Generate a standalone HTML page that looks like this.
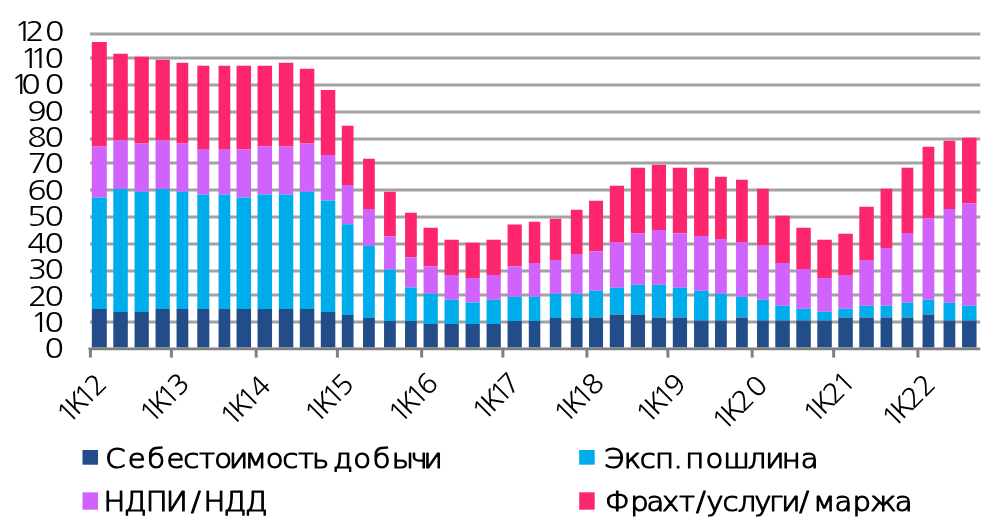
<!DOCTYPE html><html><head><meta charset="utf-8"><title>chart</title><style>html,body{margin:0;padding:0;background:#fff}svg{display:block}text{fill:#000000}.c text{font-family:"DejaVu Sans Light","DejaVu Sans","Liberation Sans",sans-serif;font-weight:200;stroke:#000000;stroke-width:1.15;stroke-linejoin:round}.d text{font-family:NanumGothic,"DejaVu Sans Light","Liberation Sans",sans-serif;font-weight:400}</style></head><body>
<svg width="1008" height="529" viewBox="0 0 1008 529">
<rect width="1008" height="529" fill="#fff"/>
<defs><filter id="soft" x="0" y="0" width="1008" height="529" filterUnits="userSpaceOnUse"><feGaussianBlur stdDeviation="0.7"/></filter><filter id="softt" x="0" y="0" width="1008" height="529" filterUnits="userSpaceOnUse"><feGaussianBlur stdDeviation="0.35"/></filter></defs>
<g id="chart" filter="url(#soft)">
<rect x="90" y="32.5" width="890.25" height="3" fill="#a2a2a2"/>
<rect x="90" y="56.5" width="890.25" height="3" fill="#a2a2a2"/>
<rect x="90" y="83.5" width="890.25" height="3" fill="#a2a2a2"/>
<rect x="90" y="110.5" width="890.25" height="3" fill="#a2a2a2"/>
<rect x="90" y="137.5" width="890.25" height="3" fill="#a2a2a2"/>
<rect x="90" y="161.5" width="890.25" height="3" fill="#a2a2a2"/>
<rect x="90" y="188.5" width="890.25" height="3" fill="#a2a2a2"/>
<rect x="90" y="215.5" width="890.25" height="3" fill="#a2a2a2"/>
<rect x="90" y="242.5" width="890.25" height="3" fill="#a2a2a2"/>
<rect x="90" y="269.5" width="890.25" height="3" fill="#a2a2a2"/>
<rect x="90" y="293.5" width="890.25" height="3" fill="#a2a2a2"/>
<rect x="90" y="320.5" width="890.25" height="3" fill="#a2a2a2"/>
<rect x="91.8" y="42.0" width="15.0" height="104.5" fill="#fd276c"/>
<rect x="91.8" y="146.5" width="15.0" height="51.0" fill="#d063fb"/>
<rect x="91.8" y="197.5" width="15.0" height="111.5" fill="#04adec"/>
<rect x="91.8" y="309.0" width="15.0" height="38.5" fill="#214d88"/>
<rect x="113.3" y="53.75" width="14.5" height="86.75" fill="#fd276c"/>
<rect x="113.3" y="140.5" width="14.5" height="48.5" fill="#d063fb"/>
<rect x="113.3" y="189.0" width="14.5" height="123.0" fill="#04adec"/>
<rect x="113.3" y="312.0" width="14.5" height="35.5" fill="#214d88"/>
<rect x="134.55" y="56.75" width="14.25" height="86.75" fill="#fd276c"/>
<rect x="134.55" y="143.5" width="14.25" height="48.25" fill="#d063fb"/>
<rect x="134.55" y="191.75" width="14.25" height="120.25" fill="#04adec"/>
<rect x="134.55" y="312.0" width="14.25" height="35.5" fill="#214d88"/>
<rect x="155.55" y="59.75" width="14.25" height="80.75" fill="#fd276c"/>
<rect x="155.55" y="140.5" width="14.25" height="48.5" fill="#d063fb"/>
<rect x="155.55" y="189.0" width="14.25" height="120.0" fill="#04adec"/>
<rect x="155.55" y="309.0" width="14.25" height="38.5" fill="#214d88"/>
<rect x="176.55" y="62.75" width="11.75" height="80.75" fill="#fd276c"/>
<rect x="176.55" y="143.5" width="11.75" height="48.25" fill="#d063fb"/>
<rect x="176.55" y="191.75" width="11.75" height="117.25" fill="#04adec"/>
<rect x="176.55" y="309.0" width="11.75" height="38.5" fill="#214d88"/>
<rect x="197.3" y="65.75" width="12.0" height="83.25" fill="#fd276c"/>
<rect x="197.3" y="149.0" width="12.0" height="45.5" fill="#d063fb"/>
<rect x="197.3" y="194.5" width="12.0" height="114.5" fill="#04adec"/>
<rect x="197.3" y="309.0" width="12.0" height="38.5" fill="#214d88"/>
<rect x="218.55" y="65.75" width="11.75" height="83.25" fill="#fd276c"/>
<rect x="218.55" y="149.0" width="11.75" height="45.5" fill="#d063fb"/>
<rect x="218.55" y="194.5" width="11.75" height="114.5" fill="#04adec"/>
<rect x="218.55" y="309.0" width="11.75" height="38.5" fill="#214d88"/>
<rect x="236.55" y="65.75" width="14.5" height="83.75" fill="#fd276c"/>
<rect x="236.55" y="149.5" width="14.5" height="48.0" fill="#d063fb"/>
<rect x="236.55" y="197.5" width="14.5" height="111.5" fill="#04adec"/>
<rect x="236.55" y="309.0" width="14.5" height="38.5" fill="#214d88"/>
<rect x="257.55" y="65.75" width="14.5" height="80.75" fill="#fd276c"/>
<rect x="257.55" y="146.5" width="14.5" height="48.0" fill="#d063fb"/>
<rect x="257.55" y="194.5" width="14.5" height="114.5" fill="#04adec"/>
<rect x="257.55" y="309.0" width="14.5" height="38.5" fill="#214d88"/>
<rect x="278.8" y="62.75" width="14.5" height="83.75" fill="#fd276c"/>
<rect x="278.8" y="146.5" width="14.5" height="48.0" fill="#d063fb"/>
<rect x="278.8" y="194.5" width="14.5" height="114.5" fill="#04adec"/>
<rect x="278.8" y="309.0" width="14.5" height="38.5" fill="#214d88"/>
<rect x="299.8" y="68.75" width="14.5" height="74.75" fill="#fd276c"/>
<rect x="299.8" y="143.5" width="14.5" height="48.25" fill="#d063fb"/>
<rect x="299.8" y="191.75" width="14.5" height="117.25" fill="#04adec"/>
<rect x="299.8" y="309.0" width="14.5" height="38.5" fill="#214d88"/>
<rect x="320.8" y="90.0" width="14.5" height="65.0" fill="#fd276c"/>
<rect x="320.8" y="155.0" width="14.5" height="45.5" fill="#d063fb"/>
<rect x="320.8" y="200.5" width="14.5" height="111.5" fill="#04adec"/>
<rect x="320.8" y="312.0" width="14.5" height="35.5" fill="#214d88"/>
<rect x="341.8" y="125.75" width="11.75" height="59.25" fill="#fd276c"/>
<rect x="341.8" y="185.0" width="11.75" height="39.25" fill="#d063fb"/>
<rect x="341.8" y="224.25" width="11.75" height="90.75" fill="#04adec"/>
<rect x="341.8" y="315.0" width="11.75" height="32.5" fill="#214d88"/>
<rect x="363.05" y="158.75" width="11.75" height="50.25" fill="#fd276c"/>
<rect x="363.05" y="209.0" width="11.75" height="36.75" fill="#d063fb"/>
<rect x="363.05" y="245.75" width="11.75" height="72.25" fill="#04adec"/>
<rect x="363.05" y="318.0" width="11.75" height="29.5" fill="#214d88"/>
<rect x="384.05" y="191.75" width="11.75" height="44.5" fill="#fd276c"/>
<rect x="384.05" y="236.25" width="11.75" height="33.25" fill="#d063fb"/>
<rect x="384.05" y="269.5" width="11.75" height="51.5" fill="#04adec"/>
<rect x="384.05" y="321.0" width="11.75" height="26.5" fill="#214d88"/>
<rect x="405.05" y="212.75" width="11.75" height="44.5" fill="#fd276c"/>
<rect x="405.05" y="257.25" width="11.75" height="30.25" fill="#d063fb"/>
<rect x="405.05" y="287.5" width="11.75" height="33.5" fill="#04adec"/>
<rect x="405.05" y="321.0" width="11.75" height="26.5" fill="#214d88"/>
<rect x="423.55" y="227.75" width="14.25" height="38.5" fill="#fd276c"/>
<rect x="423.55" y="266.25" width="14.25" height="27.5" fill="#d063fb"/>
<rect x="423.55" y="293.75" width="14.25" height="30.25" fill="#04adec"/>
<rect x="423.55" y="324.0" width="14.25" height="23.5" fill="#214d88"/>
<rect x="444.55" y="239.75" width="14.25" height="35.25" fill="#fd276c"/>
<rect x="444.55" y="275.0" width="14.25" height="24.75" fill="#d063fb"/>
<rect x="444.55" y="299.75" width="14.25" height="24.25" fill="#04adec"/>
<rect x="444.55" y="324.0" width="14.25" height="23.5" fill="#214d88"/>
<rect x="465.55" y="242.75" width="14.25" height="35.25" fill="#fd276c"/>
<rect x="465.55" y="278.0" width="14.25" height="24.5" fill="#d063fb"/>
<rect x="465.55" y="302.5" width="14.25" height="21.5" fill="#04adec"/>
<rect x="465.55" y="324.0" width="14.25" height="23.5" fill="#214d88"/>
<rect x="486.55" y="239.75" width="14.25" height="35.25" fill="#fd276c"/>
<rect x="486.55" y="275.0" width="14.25" height="24.75" fill="#d063fb"/>
<rect x="486.55" y="299.75" width="14.25" height="24.25" fill="#04adec"/>
<rect x="486.55" y="324.0" width="14.25" height="23.5" fill="#214d88"/>
<rect x="507.55" y="224.5" width="14.249999999999943" height="41.75" fill="#fd276c"/>
<rect x="507.55" y="266.25" width="14.249999999999943" height="30.5" fill="#d063fb"/>
<rect x="507.55" y="296.75" width="14.249999999999943" height="24.25" fill="#04adec"/>
<rect x="507.55" y="321.0" width="14.249999999999943" height="26.5" fill="#214d88"/>
<rect x="528.8" y="221.75" width="11.5" height="41.25" fill="#fd276c"/>
<rect x="528.8" y="263.0" width="11.5" height="33.75" fill="#d063fb"/>
<rect x="528.8" y="296.75" width="11.5" height="24.25" fill="#04adec"/>
<rect x="528.8" y="321.0" width="11.5" height="26.5" fill="#214d88"/>
<rect x="549.8" y="218.75" width="11.5" height="41.25" fill="#fd276c"/>
<rect x="549.8" y="260.0" width="11.5" height="33.75" fill="#d063fb"/>
<rect x="549.8" y="293.75" width="11.5" height="24.25" fill="#04adec"/>
<rect x="549.8" y="318.0" width="11.5" height="29.5" fill="#214d88"/>
<rect x="570.8" y="209.75" width="11.75" height="44.25" fill="#fd276c"/>
<rect x="570.8" y="254.0" width="11.75" height="39.75" fill="#d063fb"/>
<rect x="570.8" y="293.75" width="11.75" height="24.25" fill="#04adec"/>
<rect x="570.8" y="318.0" width="11.75" height="29.5" fill="#214d88"/>
<rect x="589.05" y="200.75" width="14.0" height="50.5" fill="#fd276c"/>
<rect x="589.05" y="251.25" width="14.0" height="39.5" fill="#d063fb"/>
<rect x="589.05" y="290.75" width="14.0" height="26.75" fill="#04adec"/>
<rect x="589.05" y="317.5" width="14.0" height="30.0" fill="#214d88"/>
<rect x="609.8" y="185.75" width="14.25" height="56.25" fill="#fd276c"/>
<rect x="609.8" y="242.0" width="14.25" height="45.75" fill="#d063fb"/>
<rect x="609.8" y="287.75" width="14.25" height="26.75" fill="#04adec"/>
<rect x="609.8" y="314.5" width="14.25" height="33.0" fill="#214d88"/>
<rect x="630.8" y="167.75" width="14.25" height="65.5" fill="#fd276c"/>
<rect x="630.8" y="233.25" width="14.25" height="51.5" fill="#d063fb"/>
<rect x="630.8" y="284.75" width="14.25" height="29.75" fill="#04adec"/>
<rect x="630.8" y="314.5" width="14.25" height="33.0" fill="#214d88"/>
<rect x="651.8" y="164.75" width="14.25" height="65.25" fill="#fd276c"/>
<rect x="651.8" y="230.0" width="14.25" height="54.75" fill="#d063fb"/>
<rect x="651.8" y="284.75" width="14.25" height="32.75" fill="#04adec"/>
<rect x="651.8" y="317.5" width="14.25" height="30.0" fill="#214d88"/>
<rect x="672.8" y="167.75" width="14.25" height="65.5" fill="#fd276c"/>
<rect x="672.8" y="233.25" width="14.25" height="54.5" fill="#d063fb"/>
<rect x="672.8" y="287.75" width="14.25" height="29.75" fill="#04adec"/>
<rect x="672.8" y="317.5" width="14.25" height="30.0" fill="#214d88"/>
<rect x="694.05" y="167.75" width="14.5" height="68.25" fill="#fd276c"/>
<rect x="694.05" y="236.0" width="14.5" height="54.75" fill="#d063fb"/>
<rect x="694.05" y="290.75" width="14.5" height="29.75" fill="#04adec"/>
<rect x="694.05" y="320.5" width="14.5" height="27.0" fill="#214d88"/>
<rect x="715.05" y="176.75" width="11.75" height="62.25" fill="#fd276c"/>
<rect x="715.05" y="239.0" width="11.75" height="54.75" fill="#d063fb"/>
<rect x="715.05" y="293.75" width="11.75" height="26.75" fill="#04adec"/>
<rect x="715.05" y="320.5" width="11.75" height="27.0" fill="#214d88"/>
<rect x="736.05" y="179.75" width="11.75" height="62.25" fill="#fd276c"/>
<rect x="736.05" y="242.0" width="11.75" height="54.75" fill="#d063fb"/>
<rect x="736.05" y="296.75" width="11.75" height="20.75" fill="#04adec"/>
<rect x="736.05" y="317.5" width="11.75" height="30.0" fill="#214d88"/>
<rect x="757.05" y="188.75" width="11.75" height="56.25" fill="#fd276c"/>
<rect x="757.05" y="245.0" width="11.75" height="54.75" fill="#d063fb"/>
<rect x="757.05" y="299.75" width="11.75" height="20.75" fill="#04adec"/>
<rect x="757.05" y="320.5" width="11.75" height="27.0" fill="#214d88"/>
<rect x="775.3" y="215.75" width="14.5" height="47.25" fill="#fd276c"/>
<rect x="775.3" y="263.0" width="14.5" height="42.75" fill="#d063fb"/>
<rect x="775.3" y="305.75" width="14.5" height="14.75" fill="#04adec"/>
<rect x="775.3" y="320.5" width="14.5" height="27.0" fill="#214d88"/>
<rect x="796.3" y="227.75" width="14.5" height="41.25" fill="#fd276c"/>
<rect x="796.3" y="269.0" width="14.5" height="39.75" fill="#d063fb"/>
<rect x="796.3" y="308.75" width="14.5" height="11.75" fill="#04adec"/>
<rect x="796.3" y="320.5" width="14.5" height="27.0" fill="#214d88"/>
<rect x="817.3" y="239.75" width="14.5" height="38.25" fill="#fd276c"/>
<rect x="817.3" y="278.0" width="14.5" height="33.75" fill="#d063fb"/>
<rect x="817.3" y="311.75" width="14.5" height="8.75" fill="#04adec"/>
<rect x="817.3" y="320.5" width="14.5" height="27.0" fill="#214d88"/>
<rect x="838.3" y="233.75" width="14.5" height="41.25" fill="#fd276c"/>
<rect x="838.3" y="275.0" width="14.5" height="33.75" fill="#d063fb"/>
<rect x="838.3" y="308.75" width="14.5" height="8.75" fill="#04adec"/>
<rect x="838.3" y="317.5" width="14.5" height="30.0" fill="#214d88"/>
<rect x="859.3" y="206.75" width="14.5" height="53.25" fill="#fd276c"/>
<rect x="859.3" y="260.0" width="14.5" height="45.75" fill="#d063fb"/>
<rect x="859.3" y="305.75" width="14.5" height="11.75" fill="#04adec"/>
<rect x="859.3" y="317.5" width="14.5" height="30.0" fill="#214d88"/>
<rect x="880.55" y="188.75" width="11.75" height="59.25" fill="#fd276c"/>
<rect x="880.55" y="248.0" width="11.75" height="57.75" fill="#d063fb"/>
<rect x="880.55" y="305.75" width="11.75" height="11.75" fill="#04adec"/>
<rect x="880.55" y="317.5" width="11.75" height="30.0" fill="#214d88"/>
<rect x="901.55" y="167.75" width="11.75" height="65.25" fill="#fd276c"/>
<rect x="901.55" y="233.0" width="11.75" height="69.75" fill="#d063fb"/>
<rect x="901.55" y="302.75" width="11.75" height="14.75" fill="#04adec"/>
<rect x="901.55" y="317.5" width="11.75" height="30.0" fill="#214d88"/>
<rect x="922.55" y="146.75" width="11.75" height="71.5" fill="#fd276c"/>
<rect x="922.55" y="218.25" width="11.75" height="81.5" fill="#d063fb"/>
<rect x="922.55" y="299.75" width="11.75" height="14.75" fill="#04adec"/>
<rect x="922.55" y="314.5" width="11.75" height="33.0" fill="#214d88"/>
<rect x="943.55" y="140.75" width="11.75" height="68.25" fill="#fd276c"/>
<rect x="943.55" y="209.0" width="11.75" height="93.75" fill="#d063fb"/>
<rect x="943.55" y="302.75" width="11.75" height="17.75" fill="#04adec"/>
<rect x="943.55" y="320.5" width="11.75" height="27.0" fill="#214d88"/>
<rect x="962.05" y="137.75" width="14.5" height="65.5" fill="#fd276c"/>
<rect x="962.05" y="203.25" width="14.5" height="102.5" fill="#d063fb"/>
<rect x="962.05" y="305.75" width="14.5" height="14.75" fill="#04adec"/>
<rect x="962.05" y="320.5" width="14.5" height="27.0" fill="#214d88"/>
<rect x="88.5" y="347.5" width="891.75" height="2.75" fill="#808080"/>
<rect x="88.9" y="348" width="3" height="9.6" fill="#808080"/>
<rect x="169.9" y="348" width="3" height="9.6" fill="#808080"/>
<rect x="254.65" y="348" width="3" height="9.6" fill="#808080"/>
<rect x="335.9" y="348" width="3" height="9.6" fill="#808080"/>
<rect x="420.15" y="348" width="3" height="9.6" fill="#808080"/>
<rect x="501.4" y="348" width="3" height="9.6" fill="#808080"/>
<rect x="585.4" y="348" width="3" height="9.6" fill="#808080"/>
<rect x="666.4" y="348" width="3" height="9.6" fill="#808080"/>
<rect x="750.65" y="348" width="3" height="9.6" fill="#808080"/>
<rect x="832.15" y="348" width="3" height="9.6" fill="#808080"/>
<rect x="916.4" y="348" width="3" height="9.6" fill="#808080"/>
<rect x="82.5" y="450" width="15.5" height="14.7" fill="#214d88"/>
<rect x="82.5" y="492.3" width="15.5" height="17.4" fill="#d063fb"/>
<rect x="579.2" y="450" width="15.5" height="14.7" fill="#04adec"/>
<rect x="579.2" y="492.3" width="15.5" height="17.4" fill="#fd276c"/>
</g>
<g filter="url(#softt)">
<g font-size="27.4" class="d">
<text transform="translate(0 41.30) scale(1.17 1)" x="11.80 21.54 38.54">120</text>
<text transform="translate(0 67.72) scale(1.17 1)" x="17.06 25.44 38.11">110</text>
<text transform="translate(0 94.14) scale(1.17 1)" x="9.07 18.24 38.28">100</text>
<text transform="translate(0 120.56) scale(1.17 1)" x="23.39 38.11">90</text>
<text transform="translate(0 146.98) scale(1.17 1)" x="23.31 38.11">80</text>
<text transform="translate(0 173.40) scale(1.17 1)" x="23.53 38.11">70</text>
<text transform="translate(0 199.82) scale(1.17 1)" x="23.23 38.11">60</text>
<text transform="translate(0 226.24) scale(1.17 1)" x="23.02 38.11">50</text>
<text transform="translate(0 252.66) scale(1.17 1)" x="23.39 38.11">40</text>
<text transform="translate(0 279.08) scale(1.17 1)" x="23.74 38.11">30</text>
<text transform="translate(0 305.50) scale(1.17 1)" x="23.85 38.11">20</text>
<text transform="translate(0 331.92) scale(1.17 1)" x="25.91 38.11">10</text>
<text transform="translate(0 358.34) scale(1.17 1)" x="38.11">0</text>
</g>
<g font-size="27.0" class="d">
<text transform="translate(74.70 418.90) rotate(-45) scale(1.05 1)" x="-8.86 3.10 15.21 28.99">1K12</text>
<text transform="translate(157.70 418.50) rotate(-45) scale(1.05 1)" x="-8.86 3.10 15.21 28.95">1K13</text>
<text transform="translate(238.20 421.50) rotate(-45) scale(1.05 1)" x="-8.86 3.10 15.21 29.75">1K14</text>
<text transform="translate(322.70 418.50) rotate(-45) scale(1.05 1)" x="-8.86 3.10 15.21 27.94">1K15</text>
<text transform="translate(406.45 418.50) rotate(-45) scale(1.05 1)" x="-8.86 3.10 15.21 28.83">1K16</text>
<text transform="translate(490.20 416.00) rotate(-45) scale(1.05 1)" x="-8.86 3.10 15.21 26.21">1K17</text>
<text transform="translate(571.95 418.50) rotate(-45) scale(1.05 1)" x="-8.86 3.10 15.21 29.10">1K18</text>
<text transform="translate(653.95 419.00) rotate(-45) scale(1.05 1)" x="-8.86 3.10 15.21 29.02">1K19</text>
<text transform="translate(730.20 426.00) rotate(-45) scale(1.05 1)" x="-8.86 3.10 17.85 35.97">1K20</text>
<text transform="translate(821.20 418.50) rotate(-45) scale(1.05 1)" x="-8.86 3.10 17.85 31.59">1K21</text>
<text transform="translate(899.95 423.00) rotate(-45) scale(1.05 1)" x="-8.86 3.10 17.85 33.75">1K22</text>
</g>
<g class="c" font-size="26.5">
<text transform="translate(0 468) scale(1.1 1)" x="95.71 116.23 133.95 151.46 166.66 180.91 194.68 208.09 222.40 241.56 256.59 270.84 283.71 296.44 302.70 321.22 338.83 356.04 373.18 385.04">Себестоимость добычи</text>
<text transform="translate(0 511) scale(1.1 1)" x="94.05 112.78 132.42 150.79 173.60 184.96 203.35 222.67">НДПИ/НДД</text>
<text transform="translate(0 468) scale(1.1 1)" x="548.89 567.04 581.61 595.43 612.27 625.00 622.93 641.45 657.57 679.87 695.59 710.66 727.86">Эксп. пошлина</text>
<text transform="translate(0 511) scale(1.1 1)" x="549.74 573.06 587.82 601.81 617.34 632.79 642.11 656.78 670.70 685.75 699.05 710.26 726.52 739.22 758.54 774.99 790.90 813.34">Фрахт/услуги/маржа</text>
</g>
</g>
</svg></body></html>
